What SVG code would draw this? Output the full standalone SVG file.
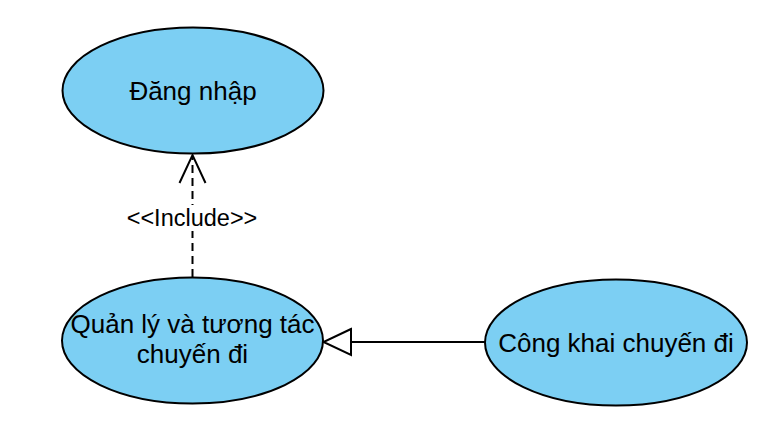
<svg xmlns="http://www.w3.org/2000/svg" width="774" height="443" viewBox="0 0 774 443">
<defs>
<style>
.uc{fill:#7ccff3;stroke:#000;stroke-width:2}
.t{font-family:"Liberation Sans",Arial,sans-serif;font-size:26px;fill:#000;text-anchor:middle}
.lbl{font-family:"Liberation Sans",Arial,sans-serif;font-size:23.5px;fill:#000;text-anchor:middle}
.ln{fill:none;stroke:#000;stroke-width:2}
</style>
</defs>
<rect width="774" height="443" fill="#fff"/>
<g id="connectors">
<path class="ln" d="M192.5 277 V156" stroke-dasharray="8 5"/>
<path class="ln" d="M179.5 183 L192.5 155 L205.5 183"/>
<rect x="124" y="205" width="136" height="26" fill="#fff"/>
<text class="lbl" x="192" y="226">&lt;&lt;Include&gt;&gt;</text>
<path class="ln" d="M485 342 H351"/>
<path class="ln" d="M351 329 L323.5 342 L351 355 Z" fill="#fff"/>
</g>
<g id="dang-nhap">
<ellipse class="uc" cx="193" cy="90.5" rx="130.5" ry="63"/>
<text class="t" x="193" y="100">Đăng nhập</text>
</g>
<g id="quan-ly">
<ellipse class="uc" cx="192.5" cy="340.5" rx="130.5" ry="63"/>
<text class="t" x="192.5" y="333">Quản lý và tương tác</text>
<text class="t" x="192.5" y="363">chuyến đi</text>
</g>
<g id="cong-khai">
<ellipse class="uc" cx="616" cy="342.5" rx="131" ry="63"/>
<text class="t" x="616" y="352">Công khai chuyến đi</text>
</g>
</svg>
